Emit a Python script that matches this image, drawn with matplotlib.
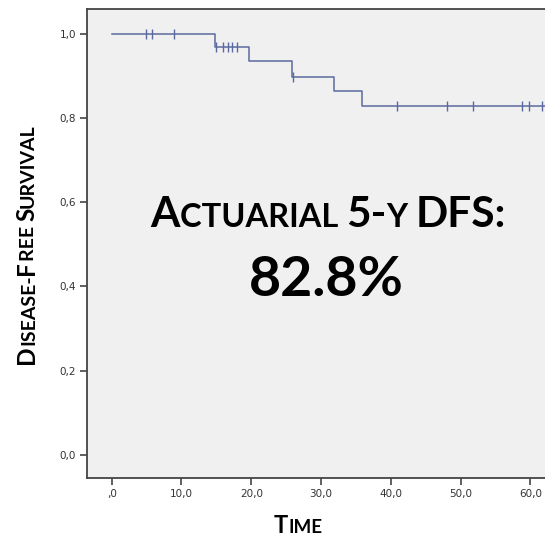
import numpy as np
import matplotlib
matplotlib.use('Agg')
import matplotlib.pyplot as plt

# Datos de la curva
event_times = [0.0, 14.8, 19.7, 25.9, 31.9, 35.9, 63.0]
survival = [1.0, 0.970, 0.935, 0.899, 0.864, 0.828, 0.828]
censor_times = [4.9, 5.8, 8.9, 14.9, 15.9, 16.6, 17.3, 18.0, 26.0,
                40.9, 48.0, 51.8, 58.8, 59.8, 61.7]

x_ticks = [0, 10, 20, 30, 40, 50, 60]
x_labels = [',0', '10,0', '20,0', '30,0', '40,0', '50,0', '60,0']
y_ticks = [0.0, 0.2, 0.4, 0.6, 0.8, 1.0]
y_labels = ['0,0', '0,2', '0,4', '0,6', '0,8', '1,0']

FONT = 'Lato'
W, H = 545, 549
LINE = '#5b6a9e'
SPINE = '#444444'

fig = plt.figure(figsize=(W / 100, H / 100), dpi=100)
ax = fig.add_axes([87.3 / W, (H - 478.3) / H, 1 - 87.3 / W, (478.3 - 9.3) / H])
ax.set_facecolor('#f0f0f0')

ax.step(event_times, survival, where='post', color=LINE, lw=1.1)
# marcas de censura sobre la curva
idx = np.searchsorted(event_times, censor_times, side='right') - 1
censor_y = np.array(survival)[idx]
ax.plot(censor_times, censor_y, ls='none', marker='|', ms=7, mew=1.0, color=LINE)

ax.set_xlim(-3.5, 62.1)
ax.set_ylim(-0.056, 1.059)
ax.set_xticks(x_ticks)
ax.set_xticklabels(x_labels)
ax.set_yticks(y_ticks)
ax.set_yticklabels(y_labels)
ax.tick_params(length=5, width=1.2, color=SPINE, labelsize=7.5, labelcolor='#333333', pad=3)
for side in ['left', 'bottom', 'top']:
    ax.spines[side].set_color(SPINE)
    ax.spines[side].set_linewidth(1.3)
ax.spines['right'].set_visible(False)

fig.canvas.draw()
renderer = fig.canvas.get_renderer()


def smallcaps(parts, x, y, big, small, rot=0, center=True):
    # parts: lista de (texto, es_grande); x, y en pixeles desde arriba
    texts, widths = [], []
    for s, is_big in parts:
        t = fig.text(0, 0, s, fontsize=big if is_big else small, fontweight='bold',
                     family=FONT, ha='left', va='baseline', rotation_mode='anchor')
        widths.append(t.get_window_extent(renderer).width)
        texts.append(t)
    pos = -sum(widths) / 2 if center else 0
    for t, w in zip(texts, widths):
        if rot == 0:
            t.set_position(((x + pos) / W, (H - y) / H))
        else:
            t.set_position((x / W, (H - y + pos) / H))
            t.set_rotation(90)
        pos += w


smallcaps([('A', True), ('CTUARIAL ', False), ('5-', True), ('Y ', False), ('DFS:', True)],
          328, 227, 30.5, 23.5)
fig.text(326 / W, (H - 296) / H, '82.8%', fontsize=40, fontweight='bold', family=FONT,
         ha='center', va='baseline')
smallcaps([('D', True), ('ISEASE-', False), ('F', True), ('REE ', False), ('S', True), ('URVIVAL', False)],
          34, 244, 17.5, 14, rot=90)
smallcaps([('T', True), ('IME', False)], 298, 533, 17, 13.5)

fig.savefig('out.png', dpi=100, facecolor='white')
